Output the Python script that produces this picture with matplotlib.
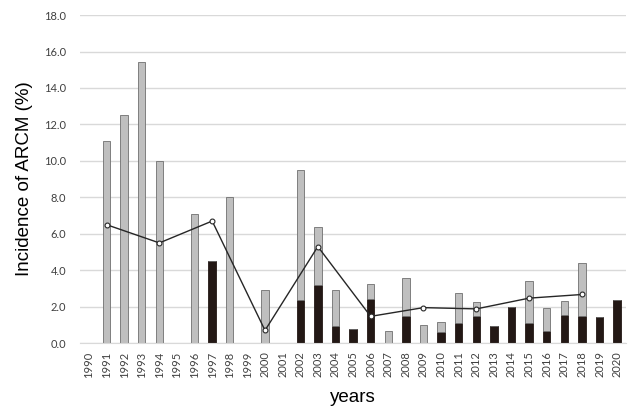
import matplotlib.pyplot as plt
import numpy as np

plt.rcParams['font.family'] = ['Liberation Sans', 'DejaVu Sans']

years = [str(y) for y in range(1990, 2021)]

# total incidence (grey bar top) per year
total = [0, 11.1, 12.5, 15.4, 10.0, 0, 7.1, 4.5, 8.0, 0, 2.9,
         0, 9.5, 6.4, 2.9, 0.8, 3.25, 0.65, 3.6, 1.0, 1.15,
         2.75, 2.25, 0.95, 2.0, 3.4, 1.95, 2.3, 4.4, 1.45, 2.35]
# dark part of the bar
dark = [0, 0, 0, 0, 0, 0, 0, 4.5, 0, 0, 0,
        0, 2.37, 3.2, 0.95, 0.8, 2.45, 0, 1.5, 0, 0.6,
        1.12, 1.5, 0.95, 2.0, 1.12, 0.65, 1.55, 1.48, 1.45, 2.35]

# three-year points of the line
line_years = ['1991', '1994', '1997', '2000', '2003', '2006', '2009', '2012', '2015', '2018']
line_vals = [6.5, 5.5, 6.7, 0.7, 5.3, 1.47, 1.95, 1.88, 2.47, 2.67]

x = np.arange(len(years))
total = np.array(total)
dark = np.array(dark)
grey = total - dark

fig = plt.figure(figsize=(6.31, 4.19), dpi=100)
ax = fig.add_axes([0.127, 0.181, 0.865, 0.783])

w = 0.42
ax.bar(x, dark, width=w, color='#231815', edgecolor='#231815', linewidth=0.6, zorder=2)
ax.bar(x, grey, width=w, bottom=dark, color='#bfbfbf', edgecolor='#6f6f6f',
       linewidth=0.6, zorder=2)

lx = [years.index(y) for y in line_years]
ax.plot(lx, line_vals, color='#262626', linewidth=1.0, marker='o', markersize=3.5,
        markerfacecolor='white', markeredgecolor='#262626', markeredgewidth=0.8, zorder=3)

ax.set_xlim(-0.5, len(years) - 0.5)
ax.set_ylim(0, 18)
yt = np.arange(0, 18.1, 2)
ax.set_yticks(yt)
ax.set_yticklabels(['%.1f' % v for v in yt], fontsize=8, color='#404040', family='Lato')
ax.set_xticks(x)
ax.set_xticklabels(years, rotation=90, fontsize=8, color='#404040', family='Lato')
ax.tick_params(axis='y', length=0, pad=10)
ax.tick_params(axis='x', length=0, pad=6)
ax.grid(axis='y', color='#d9d9d9', linewidth=1.0, zorder=0)
ax.set_axisbelow(True)
for s in ['top', 'right', 'left']:
    ax.spines[s].set_visible(False)
ax.spines['bottom'].set_color('#d9d9d9')

ax.set_ylabel('Incidence of ARCM (%)', fontsize=13.5, labelpad=8)
ax.set_xlabel('years', fontsize=13.5, labelpad=8)

fig.savefig('out.png', dpi=100)
